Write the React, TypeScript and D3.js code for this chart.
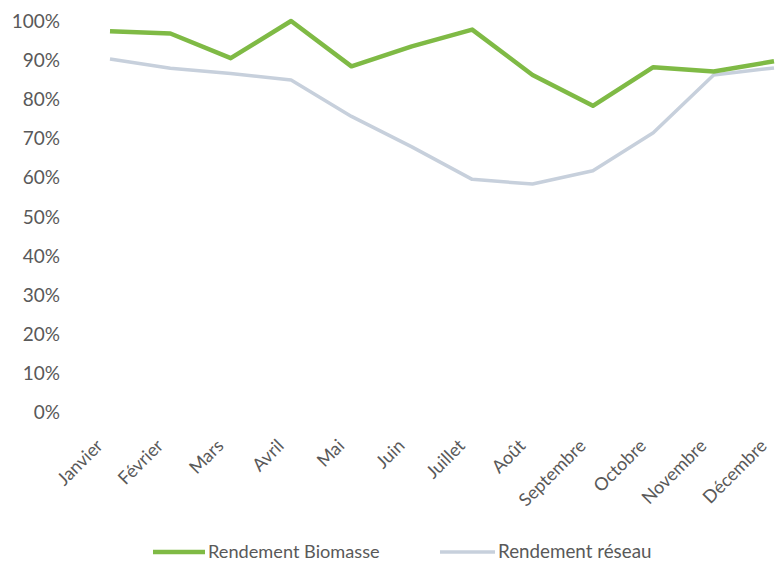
import React from "react";
import * as d3 from "d3";

const months = ["Janvier", "Février", "Mars", "Avril", "Mai", "Juin", "Juillet", "Août", "Septembre", "Octobre", "Novembre", "Décembre"];
const biomasse = [0.974, 0.968, 0.905, 1.0, 0.884, 0.935, 0.978, 0.862, 0.783, 0.882, 0.871, 0.897];
const reseau = [0.903, 0.879, 0.866, 0.849, 0.756, 0.678, 0.595, 0.583, 0.617, 0.714, 0.862, 0.88];
const yTicks = [0, 0.1, 0.2, 0.3, 0.4, 0.5, 0.6, 0.7, 0.8, 0.9, 1.0];
const seriesNames = ["Rendement Biomasse", "Rendement réseau"];

const W = 775;
const H = 571;
const FONT = "Lato, 'Open Sans', sans-serif";
const TEXT = "#595959";
const GREEN = "#7fba45";
const GREY = "#c7d0dc";

export default function App() {
  const x = d3.scalePoint<string>().domain(months).range([110, 774]);
  const y = d3.scaleLinear().domain([0, 1]).range([412, 21]);
  const line = d3
    .line<number>()
    .x((_, i) => x(months[i]) as number)
    .y((d) => y(d));
  const fmt = d3.format(".0%");

  return (
    <svg
      width={W}
      height={H}
      style={{ position: "absolute", left: 0, top: 0, background: "#fff" }}
      fontFamily={FONT}
    >
      <rect width={W} height={H} fill="#fff" />
      {yTicks.map((t) => (
        <text key={t} x={60} y={y(t) + 7} textAnchor="end" fontSize={19} fill={TEXT}>
          {fmt(t)}
        </text>
      ))}
      {months.map((m) => {
        const px = (x(m) as number) - 6;
        const py = 447;
        return (
          <text
            key={m}
            x={px}
            y={py}
            textAnchor="end"
            fontSize={18}
            fill={TEXT}
            transform={`rotate(-45 ${px} ${py})`}
          >
            {m}
          </text>
        );
      })}
      <path d={line(reseau) || ""} fill="none" stroke={GREY} strokeWidth={3.5} strokeLinejoin="round" />
      <path d={line(biomasse) || ""} fill="none" stroke={GREEN} strokeWidth={4.5} strokeLinejoin="round" />
      <g>
        <line x1={153} x2={205} y1={552} y2={552} stroke={GREEN} strokeWidth={4.5} />
        <text x={208} y={558} fontSize={18.2} fill={TEXT}>{seriesNames[0]}</text>
        <line x1={440} x2={495} y1={552} y2={552} stroke={GREY} strokeWidth={3.5} />
        <text x={498} y={558} fontSize={18.8} fill={TEXT}>{seriesNames[1]}</text>
      </g>
    </svg>
  );
}
